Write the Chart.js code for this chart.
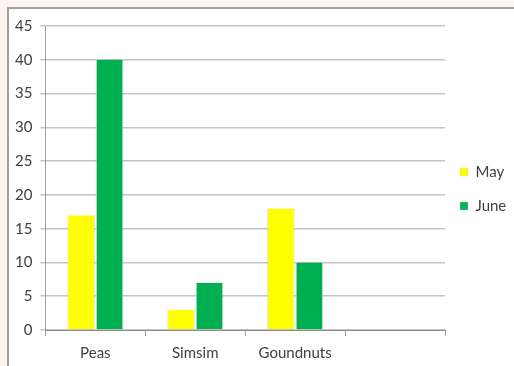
<!DOCTYPE html>
<html>
<head>
<meta charset="utf-8">
<script src="https://cdn.jsdelivr.net/npm/chart.js@4/dist/chart.umd.min.js"></script>
<style>
  html, body { margin: 0; padding: 0; }
  body { width: 514px; height: 366px; background: #fdf4f1; position: relative; overflow: hidden; }
  #frame {
    position: absolute; left: 7px; top: 7px; right: 0; bottom: 0;
    background: #ffffff;
    border-top: 2px solid #a0a0a0;
    border-left: 2px solid #a0a0a0;
  }
  #wrap { position: absolute; left: 0; top: 0; width: 514px; height: 370px; }
</style>
</head>
<body>
<div id="frame"></div>
<div id="wrap"><canvas id="chart" width="514" height="370"></canvas></div>
<script>
// Crop categories (the fourth slot is left empty)
const categories = ['Peas', 'Simsim', 'Goundnuts', ''];
// Values per month
const mayValues = [17, 3, 18, null];
const juneValues = [40, 7, 10, null];
// Value axis range
const yMin = 0;
const yMax = 45;
const yStep = 5;

const labelFont = { family: 'Lato, "Open Sans", sans-serif', size: 15 };

// Nudges the legend block so it sits beside the middle of the plot
const legendNudge = {
  id: 'legendNudge',
  afterLayout(chart, args, opts) {
    const lg = chart.legend;
    if (lg) {
      lg.top -= opts.dy;
      lg.bottom -= opts.dy;
      lg.left -= opts.dx;
      lg.right -= opts.dx;
    }
  }
};

const barStyle = {
  borderColor: 'rgba(210,210,210,0.7)',
  borderWidth: { left: 1, right: 1, top: 0, bottom: 0 },
  categoryPercentage: 0.57,
  barPercentage: 0.97
};

new Chart(document.getElementById('chart'), {
  type: 'bar',
  plugins: [legendNudge],
  data: {
    labels: categories,
    datasets: [
      Object.assign({ label: 'May', data: mayValues, backgroundColor: '#ffff00' }, barStyle),
      Object.assign({ label: 'June', data: juneValues, backgroundColor: '#00b050' }, barStyle)
    ]
  },
  options: {
    responsive: false,
    animation: false,
    layout: { padding: { left: 7, right: 0, top: 26, bottom: 0 } },
    plugins: {
      tooltip: { enabled: false },
      legendNudge: { dy: 9, dx: 4 },
      legend: {
        position: 'right',
        align: 'center',
        maxWidth: 69,
        labels: {
          boxWidth: 8,
          boxHeight: 8,
          padding: 19,
          color: '#404040',
          font: labelFont
        }
      }
    },
    scales: {
      x: {
        grid: {
          offset: true,
          drawOnChartArea: false,
          drawTicks: true,
          tickLength: 6,
          color: '#a0a0a0'
        },
        border: { color: '#8c8c8c', width: 1 },
        ticks: { color: '#404040', font: labelFont, padding: 8 }
      },
      y: {
        min: yMin,
        max: yMax,
        ticks: { stepSize: yStep, color: '#404040', font: labelFont, padding: 8 },
        grid: { color: '#c4c4c4', lineWidth: 1.5, tickLength: 5 },
        border: { color: '#a0a0a0', width: 1 }
      }
    }
  }
});
</script>
</body>
</html>
